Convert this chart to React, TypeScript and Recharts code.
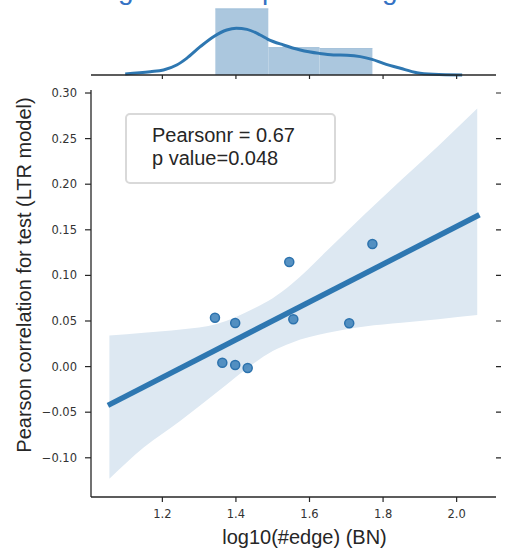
import { Area, ComposedChart, Line, Scatter, XAxis, YAxis } from "recharts";

// scatter: log10 edge count vs test correlation
const edgeLog = [1.343, 1.398, 1.363, 1.398, 1.432, 1.545, 1.771, 1.556, 1.708];
const corr = [0.0536, 0.0478, 0.0043, 0.0018, -0.0015, 0.1147, 0.1344, 0.0519, 0.0475];

// regression fit endpoints
const fitX = [1.052, 2.062];
const fitY = [-0.0425, 0.1665];

// confidence band
const ciX = [1.056, 1.15, 1.25, 1.35, 1.45, 1.5, 1.55, 1.65, 1.75, 1.85, 1.95, 2.056];
const ciLow = [-0.123, -0.0885, -0.059, -0.0277, 0.004, 0.017, 0.026, 0.037, 0.044, 0.048, 0.052, 0.0565];
const ciHigh = [0.034, 0.037, 0.0406, 0.047, 0.064, 0.075, 0.09, 0.128, 0.167, 0.205, 0.242, 0.283];

// marginal histogram (density) + kde
const binEdges = [1.344, 1.488, 1.627, 1.771];
const binCounts = [5, 2, 2];
const kdeX = [1.099, 1.167, 1.203, 1.239, 1.266, 1.303, 1.339, 1.375, 1.401, 1.43, 1.466, 1.487, 1.529, 1.575, 1.627, 1.665, 1.702, 1.738, 1.77, 1.801, 1.847, 1.892, 1.937, 2.015];
const kdeY = [0.06, 0.19, 0.29, 0.58, 0.97, 1.65, 2.23, 2.62, 2.72, 2.66, 2.33, 2.08, 1.75, 1.46, 1.26, 1.17, 1.15, 1.07, 0.91, 0.68, 0.39, 0.13, 0.04, 0];

const xTicks = [1.2, 1.4, 1.6, 1.8, 2.0];
const yTicks = [-0.1, -0.05, 0, 0.05, 0.1, 0.15, 0.2, 0.25, 0.3];

const X_DOMAIN: [number, number] = [1.006, 2.107];
const Y_DOMAIN: [number, number] = [-0.143, 0.3033];

const BLUE = "#2e77b1";
const INK = "#262626";
const tickFont = { fontFamily: "DejaVu Sans", fontSize: 11.5, fill: "#333" };

const points = edgeLog.map((x, i) => ({ x, y: corr[i] }));
const fitData = fitX.map((x, i) => ({ x, fit: fitY[i] }));
const bandData = ciX.map((x, i) => ({ x, band: [ciLow[i], ciHigh[i]] }));
const total = binCounts.reduce((a, b) => a + b, 0);
// each bin as a two-point flat segment so it fills like a bar
const bins = binCounts.map((c, i) => {
  const lo = binEdges[i];
  const hi = binEdges[i + 1];
  const d = c / (total * (hi - lo));
  return [
    { x: lo, density: d },
    { x: hi, density: d },
  ];
});
const kdeData = kdeX.map((x, i) => ({ x, kde: kdeY[i] }));

const fmtY = (v: number) => (v < 0 ? "\u2212" : "") + Math.abs(v).toFixed(2);
const blank = () => "";

export default function App() {
  return (
    <div
      style={{
        position: "absolute",
        left: 0,
        top: 0,
        width: 507,
        height: 558,
        overflow: "hidden",
        background: "#fff",
        fontFamily: '"Liberation Sans", Arial, sans-serif',
      }}
    >
      {/* title, mostly above the top edge */}
      <svg width={507} height={12} style={{ position: "absolute", left: 0, top: 0 }}>
        <g fill="#3472c4" fontSize={28} fontFamily='"Liberation Sans", Arial, sans-serif'>
          <text x={118} y={-1}>g</text>
          <text x={262} y={-1}>p</text>
          <text x={382} y={-1}>g</text>
        </g>
      </svg>

      {/* top marginal distribution */}
      <div style={{ position: "absolute", left: 0, top: 0 }}>
        <ComposedChart width={507} height={80} data={kdeData} margin={{ top: 0, right: 11, bottom: 0, left: 91 }}>
          <XAxis
            dataKey="x"
            type="number"
            domain={X_DOMAIN}
            ticks={xTicks}
            allowDataOverflow
            height={5}
            tickSize={4}
            tickFormatter={blank}
            axisLine={{ stroke: INK, strokeWidth: 1.3 }}
            tickLine={{ stroke: INK, strokeWidth: 1.2 }}
          />
          <YAxis type="number" domain={[0, 4.37]} hide width={0} />
          {bins.map((b, i) => (
            <Area
              key={i}
              data={b}
              dataKey="density"
              type="linear"
              fill="#abc7de"
              fillOpacity={1}
              stroke="#9bbbd6"
              strokeWidth={0.8}
              isAnimationActive={false}
            />
          ))}
          <Line dataKey="kde" type="monotone" stroke={BLUE} strokeWidth={3} dot={false} isAnimationActive={false} />
        </ComposedChart>
      </div>

      {/* joint scatter + regression */}
      <div style={{ position: "absolute", left: 0, top: 0 }}>
        <ComposedChart width={507} height={558} data={bandData} margin={{ top: 90, right: 0, bottom: 0, left: 41 }}>
          <XAxis
            dataKey="x"
            type="number"
            domain={X_DOMAIN}
            ticks={xTicks}
            allowDataOverflow
            height={61}
            tickSize={5}
            tickMargin={8}
            tick={tickFont}
            tickFormatter={(v: number) => v.toFixed(1)}
            axisLine={{ stroke: INK, strokeWidth: 1.3 }}
            tickLine={{ stroke: INK, strokeWidth: 1.2 }}
          />
          <YAxis
            type="number"
            domain={Y_DOMAIN}
            ticks={yTicks}
            allowDataOverflow
            width={50}
            tickSize={6}
            tickMargin={8}
            tick={tickFont}
            tickFormatter={fmtY}
            axisLine={{ stroke: INK, strokeWidth: 1.3 }}
            tickLine={{ stroke: INK, strokeWidth: 1.2 }}
          />
          {/* shared-y ticks of the (off-page) right marginal panel */}
          <YAxis
            yAxisId="marg"
            orientation="right"
            type="number"
            domain={Y_DOMAIN}
            ticks={yTicks}
            allowDataOverflow
            width={11}
            tickSize={12}
            tickFormatter={blank}
            axisLine={false}
            tickLine={{ stroke: INK, strokeWidth: 1.2, strokeDasharray: "0 7 12" }}
          />
          <Area dataKey="band" type="monotone" fill="#dde8f2" fillOpacity={1} stroke="none" isAnimationActive={false} />
          <Line data={fitData} dataKey="fit" type="linear" stroke={BLUE} strokeWidth={5.5} dot={false} isAnimationActive={false} />
          <Scatter
            data={points}
            dataKey="y"
            fill="#3a7fb8"
            fillOpacity={0.85}
            stroke="#2c72ad"
            strokeWidth={1.5}
            isAnimationActive={false}
          />
        </ComposedChart>
      </div>

      {/* stats box */}
      <div
        style={{
          position: "absolute",
          left: 125,
          top: 113,
          width: 211,
          height: 71,
          boxSizing: "border-box",
          border: "2px solid #d9d9d9",
          borderRadius: 5,
          background: "rgba(255,255,255,0.8)",
          paddingLeft: 25,
          paddingTop: 8.6,
          fontSize: 20,
          lineHeight: "23px",
          color: INK,
        }}
      >
        <div>Pearsonr = 0.67</div>
        <div>p value=0.048</div>
      </div>

      {/* axis titles */}
      <svg width={507} height={558} style={{ position: "absolute", left: 0, top: 0, pointerEvents: "none" }}>
        <g fill={INK} fontSize={20} fontFamily='"Liberation Sans", Arial, sans-serif'>
          <text x={304.5} y={543.5} textAnchor="middle">
            log10(#edge) (BN)
          </text>
          <text x={31} y={275} textAnchor="middle" transform="rotate(-90 31 275)">
            Pearson correlation for test (LTR model)
          </text>
        </g>
      </svg>
    </div>
  );
}
